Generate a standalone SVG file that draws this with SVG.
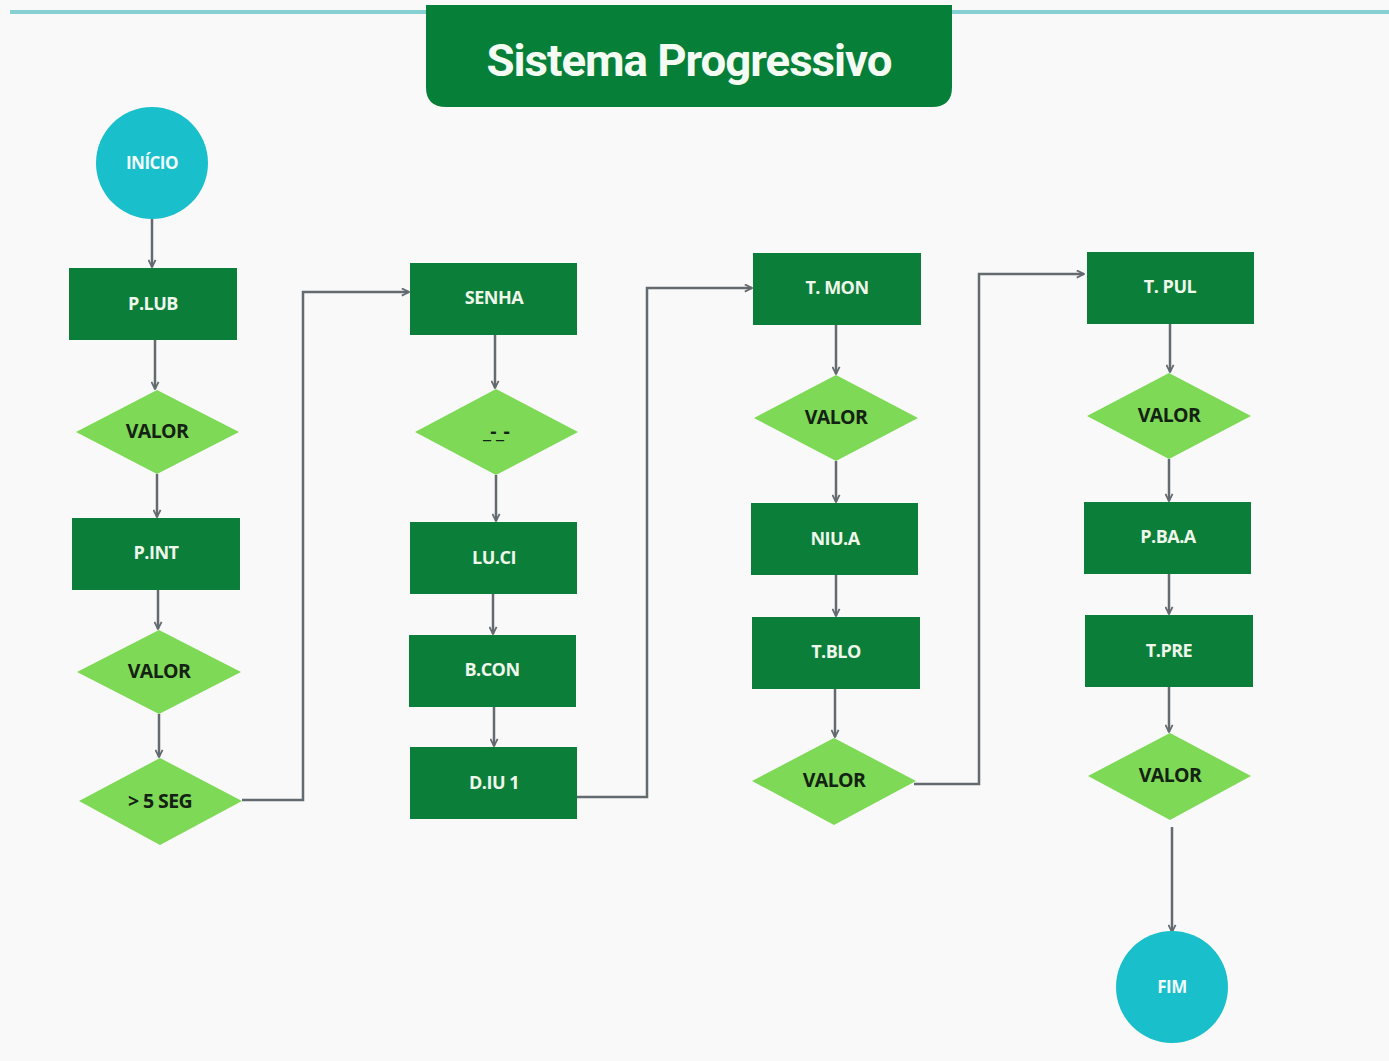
<svg xmlns="http://www.w3.org/2000/svg" width="1389" height="1061" viewBox="0 0 1389 1061">
<style>
.bg{fill:#f9f9f9}
.rect{fill:#0b7e3a}
.dia{fill:#7ed957}
.circ{fill:#19bfcb}
.rt{font-family:"Open Sans","Liberation Sans",sans-serif;font-weight:700;font-size:18px;fill:#eef7ea;text-anchor:middle;dominant-baseline:central;letter-spacing:-0.5px}
.dt{font-family:"Open Sans","Liberation Sans",sans-serif;font-weight:700;font-size:19.5px;fill:#132213;text-anchor:middle;dominant-baseline:central;letter-spacing:-0.6px}
.ct{font-family:"Open Sans","Liberation Sans",sans-serif;font-weight:700;font-size:17px;fill:#f2fbfb;text-anchor:middle;dominant-baseline:central;letter-spacing:-0.5px}
.conn{fill:none;stroke:#636a70;stroke-width:2.5}
</style>
<defs>
<marker id="arr" viewBox="0 0 10 10" refX="9" refY="5" markerWidth="9" markerHeight="9" markerUnits="userSpaceOnUse" orient="auto">
<path d="M1,1 L9,5 L1,9" fill="none" stroke="#636a70" stroke-width="2"/>
</marker>
</defs>
<rect class="bg" x="0" y="0" width="1389" height="1061"/>
<rect x="10" y="10" width="1379" height="4" fill="#86cfd3"/>
<g id="title">
<path d="M426,5 H952 V87 Q952,107 932,107 H446 Q426,107 426,87 Z" fill="#067f38"/>
<text x="689" y="61" font-family="Roboto,'Open Sans',sans-serif" font-weight="700" font-size="44" fill="#f4fbf2" text-anchor="middle" dominant-baseline="central" letter-spacing="-1" textLength="405" lengthAdjust="spacingAndGlyphs">Sistema Progressivo</text>
</g>
<g id="connectors">
<path class="conn" marker-end="url(#arr)" d="M152,219 V267"/>
<path class="conn" marker-end="url(#arr)" d="M155,340 V389"/>
<path class="conn" marker-end="url(#arr)" d="M157,474 V517"/>
<path class="conn" marker-end="url(#arr)" d="M158,590 V629"/>
<path class="conn" marker-end="url(#arr)" d="M159,714 V757"/>
<path class="conn" marker-end="url(#arr)" d="M242,800 H303 V292 H409"/>
<path class="conn" marker-end="url(#arr)" d="M495,335 V388"/>
<path class="conn" marker-end="url(#arr)" d="M496,475 V521"/>
<path class="conn" marker-end="url(#arr)" d="M493,594 V634"/>
<path class="conn" marker-end="url(#arr)" d="M494,707 V746"/>
<path class="conn" marker-end="url(#arr)" d="M577,797 H647 V288 H752"/>
<path class="conn" marker-end="url(#arr)" d="M836,325 V374"/>
<path class="conn" marker-end="url(#arr)" d="M836,461 V502"/>
<path class="conn" marker-end="url(#arr)" d="M836,575 V616"/>
<path class="conn" marker-end="url(#arr)" d="M835,689 V737"/>
<path class="conn" marker-end="url(#arr)" d="M914,784 H979 V274 H1084"/>
<path class="conn" marker-end="url(#arr)" d="M1170,324 V372"/>
<path class="conn" marker-end="url(#arr)" d="M1169,459 V501"/>
<path class="conn" marker-end="url(#arr)" d="M1169,574 V614"/>
<path class="conn" marker-end="url(#arr)" d="M1169,687 V732"/>
<path class="conn" marker-end="url(#arr)" d="M1172,827 V932"/>
</g>
<g id="inicio"><circle class="circ" cx="152" cy="163" r="56"/><text class="ct" x="152" y="162">INÍCIO</text></g>
<g id="plub"><rect class="rect" x="69" y="268" width="168" height="72"/><text class="rt" x="153" y="303">P.LUB</text></g>
<g id="valor1"><polygon class="dia" points="157,390 239,432 157,474 76,432"/><text class="dt" x="157" y="430">VALOR</text></g>
<g id="pint"><rect class="rect" x="72" y="518" width="168" height="72"/><text class="rt" x="156" y="552">P.INT</text></g>
<g id="valor2"><polygon class="dia" points="159,630 241,672 159,714 77,672"/><text class="dt" x="159" y="670">VALOR</text></g>
<g id="seg"><polygon class="dia" points="160,758 242,801 160,845 79,801"/><text class="dt" x="160" y="800">&gt; 5 SEG</text></g>
<g id="senha"><rect class="rect" x="410" y="263" width="167" height="72"/><text class="rt" x="494" y="297">SENHA</text></g>
<g id="dots"><polygon class="dia" points="496,389 578,432 496,475 415,432"/><text class="dt" x="496" y="430" letter-spacing="1">_-_-</text></g>
<g id="luci"><rect class="rect" x="410" y="522" width="167" height="72"/><text class="rt" x="494" y="557">LU.CI</text></g>
<g id="bcon"><rect class="rect" x="409" y="635" width="167" height="72"/><text class="rt" x="492" y="669">B.CON</text></g>
<g id="diu1"><rect class="rect" x="410" y="747" width="167" height="72"/><text class="rt" x="494" y="782">D.IU 1</text></g>
<g id="tmon"><rect class="rect" x="753" y="253" width="168" height="72"/><text class="rt" x="837" y="287">T. MON</text></g>
<g id="valor3"><polygon class="dia" points="836,375 918,418 836,461 754,418"/><text class="dt" x="836" y="416">VALOR</text></g>
<g id="niua"><rect class="rect" x="751" y="503" width="167" height="72"/><text class="rt" x="835" y="538">NIU.A</text></g>
<g id="tblo"><rect class="rect" x="752" y="617" width="168" height="72"/><text class="rt" x="836" y="651">T.BLO</text></g>
<g id="valor4"><polygon class="dia" points="834,738 916,781 834,825 752,781"/><text class="dt" x="834" y="779">VALOR</text></g>
<g id="tpul"><rect class="rect" x="1087" y="252" width="167" height="72"/><text class="rt" x="1170" y="286">T. PUL</text></g>
<g id="valor5"><polygon class="dia" points="1169,373 1251,416 1169,459 1087,416"/><text class="dt" x="1169" y="414">VALOR</text></g>
<g id="pbaa"><rect class="rect" x="1084" y="502" width="167" height="72"/><text class="rt" x="1168" y="536">P.BA.A</text></g>
<g id="tpre"><rect class="rect" x="1085" y="615" width="168" height="72"/><text class="rt" x="1169" y="650">T.PRE</text></g>
<g id="valor6"><polygon class="dia" points="1170,733 1251,776 1170,820 1088,776"/><text class="dt" x="1170" y="774">VALOR</text></g>
<g id="fim"><circle class="circ" cx="1172" cy="987" r="56"/><text class="ct" x="1172" y="986">FIM</text></g>
</svg>
